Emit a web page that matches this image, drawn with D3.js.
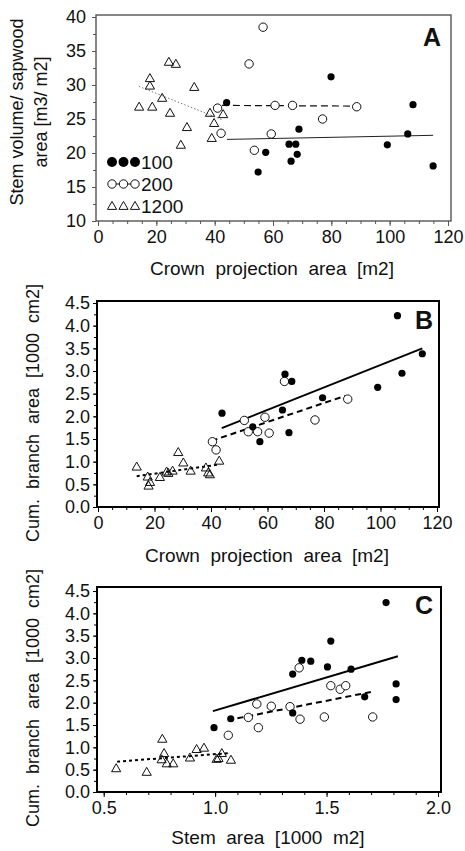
<!DOCTYPE html>
<html>
<head>
<meta charset="utf-8">
<script src="https://cdn.jsdelivr.net/npm/d3@7/dist/d3.min.js"></script>
<style>
body { margin: 0; background: #fff; }
text { font-family: "Liberation Sans", Arial, sans-serif; fill: #111; }
</style>
</head>
<body>
<div id="chart"></div>
<script>
// ---- panel A: stem volume / sapwood area vs crown projection area ----
var a100 = [[44.1,27.4],[79.9,31.2],[108,27.1],[68.9,23.5],[65.5,21.3],[67.8,21.3],
            [106.2,22.8],[99.2,21.2],[57.5,20.1],[68.3,19.8],[66.2,18.8],[54.9,17.2],[114.9,18.1]];
var a200 = [[56.6,38.5],[51.8,33.1],[41,26.6],[60.7,27.0],[66.7,27.0],[88.7,26.8],
            [77,25.0],[42.2,22.9],[59.4,22.8],[53.6,20.4]];
var a1200 = [[14.1,26.8],[17.8,31.0],[17.8,29.9],[18.6,26.8],[22.0,28.1],[24.3,33.4],
             [26.7,33.1],[24.7,25.9],[33,29.7],[30.5,23.8],[28.4,21.2],[38.4,25.9],
             [42.9,25.7],[39.8,24.4],[39,22.2]];
var aFit100 = [[44.2,22.0],[114.9,22.6]];
var aFit200 = [[42.5,27.0],[88.7,26.9]];
var aFit1200 = [[14,29.8],[42.5,24.9]];

// ---- panel B: cum. branch area vs crown projection area ----
var b100 = [[43.9,2.07],[106,4.22],[114.8,3.38],[107.6,2.95],[66.2,2.93],[68.6,2.77],
            [79.5,2.41],[99,2.64],[65.3,2.14],[54.8,1.77],[57.3,1.44],[67.6,1.64]];
var b200 = [[51.8,1.91],[59.1,1.98],[76.8,1.92],[88.4,2.38],[66,2.77],[53.2,1.66],
            [56.5,1.66],[60.6,1.63],[40.5,1.44],[41.8,1.26]];
var b1200 = [[13.7,0.89],[17.6,0.67],[18.4,0.55],[17.9,0.47],[21.9,0.66],[24.3,0.78],
             [24.9,0.75],[26.4,0.80],[28.4,1.21],[30.2,0.98],[32.8,0.80],[38.2,0.87],
             [39,0.76],[39.6,0.72],[42.9,1.02]];
var bFit100 = [[43.8,1.74],[114.8,3.50]];
var bFit200 = [[40.2,1.46],[87.4,2.45]];
var bFit1200 = [[13.7,0.68],[43.2,0.94]];

// ---- panel C: cum. branch area vs stem area ----
var c100 = [[1.767,4.24],[1.519,3.38],[1.389,2.95],[1.429,2.93],[1.348,2.64],[1.504,2.80],
            [1.610,2.75],[1.812,2.42],[1.812,2.07],[1.671,2.13],[1.348,1.77],[0.995,1.44],[1.070,1.64]];
var c200 = [[1.377,2.78],[1.519,2.38],[1.561,2.30],[1.586,2.38],[1.336,1.91],[1.252,1.92],
            [1.187,1.97],[1.381,1.63],[1.490,1.68],[1.707,1.68],[1.149,1.67],[1.194,1.44],[1.059,1.27]];
var c1200 = [[0.556,0.53],[0.693,0.45],[0.763,1.19],[0.771,0.87],[0.760,0.73],[0.783,0.64],
             [0.812,0.64],[0.887,0.77],[0.917,0.96],[0.950,0.99],[1.007,0.74],[1.015,0.76],
             [1.030,0.87],[1.071,0.72]];
var cFit100 = [[0.99,1.81],[1.82,3.04]];
var cFit200 = [[1.10,1.65],[1.70,2.24]];
var cFit1200 = [[0.56,0.68],[1.06,0.87]];

var legendLabels = ['100', '200', '1200'];

var svg = d3.select('#chart').append('svg')
    .attr('width', 465)
    .attr('height', 851);

function marker(sel, type) {
    /*
    Draws a marker of one density class in the given selection.

    type: 100 (filled dot), 200 (open circle), 1200 (open triangle)
    */
    if (type == 100) {
        sel.append('circle').attr('r', 3.6).attr('fill', '#000');
    }
    else if (type == 200) {
        sel.append('circle').attr('r', 4.2)
            .attr('fill', '#fff').attr('stroke', '#111').attr('stroke-width', 1);
    }
    else {
        sel.append('path').attr('d', 'M0,-4.6L4.6,3.4L-4.6,3.4Z')
            .attr('fill', 'none').attr('stroke', '#111').attr('stroke-width', 1);
    }
}

function drawPanel(p) {
    /*
    Draws one scatter panel with its frame, axes, points and fitted lines.

    p: settings of the panel (scales, frame, texts, data)
    */
    var g = svg.append('g');
    var x = d3.scaleLinear().domain(p.xDomain).range(p.xRange);
    var y = d3.scaleLinear().domain(p.yDomain).range(p.yRange);
    var f = p.frame;

    // minor ticks
    g.append('g').attr('transform', 'translate(0,' + f.bottom + ')')
        .call(d3.axisBottom(x).tickValues(p.xMinor).tickSize(3).tickFormat(''));
    g.append('g').attr('transform', 'translate(' + f.left + ',0)')
        .call(d3.axisLeft(y).tickValues(p.yMinor).tickSize(3).tickFormat(''));

    // major ticks with labels
    g.append('g').attr('transform', 'translate(0,' + f.bottom + ')')
        .call(d3.axisBottom(x).tickValues(p.xTicks).tickSize(5).tickPadding(4)
              .tickFormat(p.xFormat));
    g.append('g').attr('transform', 'translate(' + f.left + ',0)')
        .call(d3.axisLeft(y).tickValues(p.yTicks).tickSize(4).tickPadding(p.yPad)
              .tickFormat(p.yFormat));
    g.selectAll('.domain').remove();
    g.selectAll('.tick line').attr('stroke', p.frameColor);
    g.selectAll('.tick text').style('font-size', '18px')
        .style('font-family', '"Liberation Sans", Arial, sans-serif').attr('fill', '#111');

    // frame
    g.append('rect')
        .attr('x', f.left).attr('y', f.top)
        .attr('width', f.right - f.left).attr('height', f.bottom - f.top)
        .attr('fill', 'none').attr('stroke', p.frameColor).attr('stroke-width', p.frameWidth);

    // fitted lines
    var line = d3.line().x(function(d) { return x(d[0]); }).y(function(d) { return y(d[1]); });
    p.fits.forEach(function(fit) {
        g.append('path').datum(fit.data)
            .attr('d', line)
            .attr('fill', 'none')
            .attr('stroke', fit.color)
            .attr('stroke-width', fit.width)
            .attr('stroke-dasharray', fit.dash);
    });

    // points
    p.series.forEach(function(s) {
        g.selectAll(null).data(s.data).enter().append('g')
            .attr('transform', function(d) { return 'translate(' + x(d[0]) + ',' + y(d[1]) + ')'; })
            .each(function() { marker(d3.select(this), s.type); });
    });

    // panel letter
    g.append('text')
        .attr('x', p.letterX).attr('y', p.letterY)
        .attr('text-anchor', 'middle')
        .style('font-size', '25px').style('font-weight', 'bold')
        .text(p.letter);

    // axis titles
    g.append('text')
        .attr('x', p.xTitleX).attr('y', p.xTitleY)
        .attr('text-anchor', 'middle')
        .style('font-size', '19px').style('white-space', 'pre')
        .text(p.xTitle);

    p.yTitle.forEach(function(t, i) {
        g.append('text')
            .attr('transform', 'translate(' + p.yTitleX[i] + ',' + p.yTitleY + ') rotate(-90)')
            .attr('text-anchor', 'middle')
            .style('font-size', '18px').style('white-space', 'pre')
            .text(t);
    });
    return g;
}

var fmt1 = d3.format('.1f');

var gA = drawPanel({
    xDomain: [0, 120], xRange: [98, 448],
    yDomain: [10, 40], yRange: [221, 17],
    frame: { left: 96, right: 451, top: 15, bottom: 221 },
    frameColor: '#555', frameWidth: 1.4,
    xTicks: d3.range(0, 121, 20), xMinor: d3.range(0, 121, 5), xFormat: d3.format('d'),
    yTicks: d3.range(10, 41, 5), yMinor: d3.range(10, 41, 2.5), yFormat: d3.format('d'), yPad: 6,
    fits: [
        { data: aFit100, color: '#222', width: 1, dash: null },
        { data: aFit200, color: '#111', width: 1.2, dash: '7,4' },
        { data: aFit1200, color: '#777', width: 1, dash: '1.5,2' }
    ],
    series: [
        { data: a1200, type: 1200 },
        { data: a200, type: 200 },
        { data: a100, type: 100 }
    ],
    letter: 'A', letterX: 432, letterY: 46,
    xTitle: 'Crown  projection  area  [m2]', xTitleX: 272, xTitleY: 275,
    yTitle: ['Stem volume/ sapwood', 'area [m3/ m2]'], yTitleX: [23, 47], yTitleY: 112
});

// legend of panel A
var legendTypes = [100, 200, 1200];
legendTypes.forEach(function(t, i) {
    var ly = 162 + i * 22;
    if (t == 200) {
        gA.append('line').attr('x1', 108).attr('x2', 139).attr('y1', ly).attr('y2', ly)
            .attr('stroke', '#111').attr('stroke-width', 1);
    }
    [112, 123.5, 135].forEach(function(lx) {
        var m = gA.append('g').attr('transform', 'translate(' + lx + ',' + ly + ')');
        if (t == 100) {
            m.append('circle').attr('r', 5).attr('fill', '#000');
        }
        else {
            marker(m, t);
        }
    });
    gA.append('text')
        .attr('x', 141).attr('y', ly + 7)
        .style('font-size', '19px')
        .text(legendLabels[i]);
});

drawPanel({
    xDomain: [0, 120], xRange: [98, 437],
    yDomain: [0, 4.5], yRange: [507, 303],
    frame: { left: 97, right: 439, top: 301, bottom: 507 },
    frameColor: '#000', frameWidth: 2,
    xTicks: d3.range(0, 121, 20), xMinor: d3.range(0, 121, 5), xFormat: d3.format('d'),
    yTicks: d3.range(0, 4.51, 0.5), yMinor: d3.range(0, 4.51, 0.25), yFormat: fmt1, yPad: 3,
    fits: [
        { data: bFit100, color: '#000', width: 2, dash: null },
        { data: bFit200, color: '#000', width: 2, dash: '6,4' },
        { data: bFit1200, color: '#000', width: 2, dash: '3,3' }
    ],
    series: [
        { data: b1200, type: 1200 },
        { data: b200, type: 200 },
        { data: b100, type: 100 }
    ],
    letter: 'B', letterX: 424, letterY: 329,
    xTitle: 'Crown  projection  area  [m2]', xTitleX: 267, xTitleY: 562,
    yTitle: ['Cum.  branch  area  [1000  cm2]'], yTitleX: [39], yTitleY: 413
});

drawPanel({
    xDomain: [0.5, 2.0], xRange: [103.7, 438],
    yDomain: [0, 4.5], yRange: [792, 591],
    frame: { left: 97, right: 441, top: 587, bottom: 792 },
    frameColor: '#000', frameWidth: 2,
    xTicks: [0.5, 1.0, 1.5, 2.0], xMinor: d3.range(0.5, 2.01, 0.1), xFormat: fmt1,
    yTicks: d3.range(0, 4.51, 0.5), yMinor: d3.range(0, 4.51, 0.25), yFormat: fmt1, yPad: 3,
    fits: [
        { data: cFit100, color: '#000', width: 2, dash: null },
        { data: cFit200, color: '#000', width: 2, dash: '6,4' },
        { data: cFit1200, color: '#000', width: 2, dash: '3,3' }
    ],
    series: [
        { data: c1200, type: 1200 },
        { data: c200, type: 200 },
        { data: c100, type: 100 }
    ],
    letter: 'C', letterX: 424, letterY: 614,
    xTitle: 'Stem  area  [1000  m2]', xTitleX: 268, xTitleY: 844,
    yTitle: ['Cum.  branch  area  [1000  cm2]'], yTitleX: [39], yTitleY: 698
});
</script>
</body>
</html>
